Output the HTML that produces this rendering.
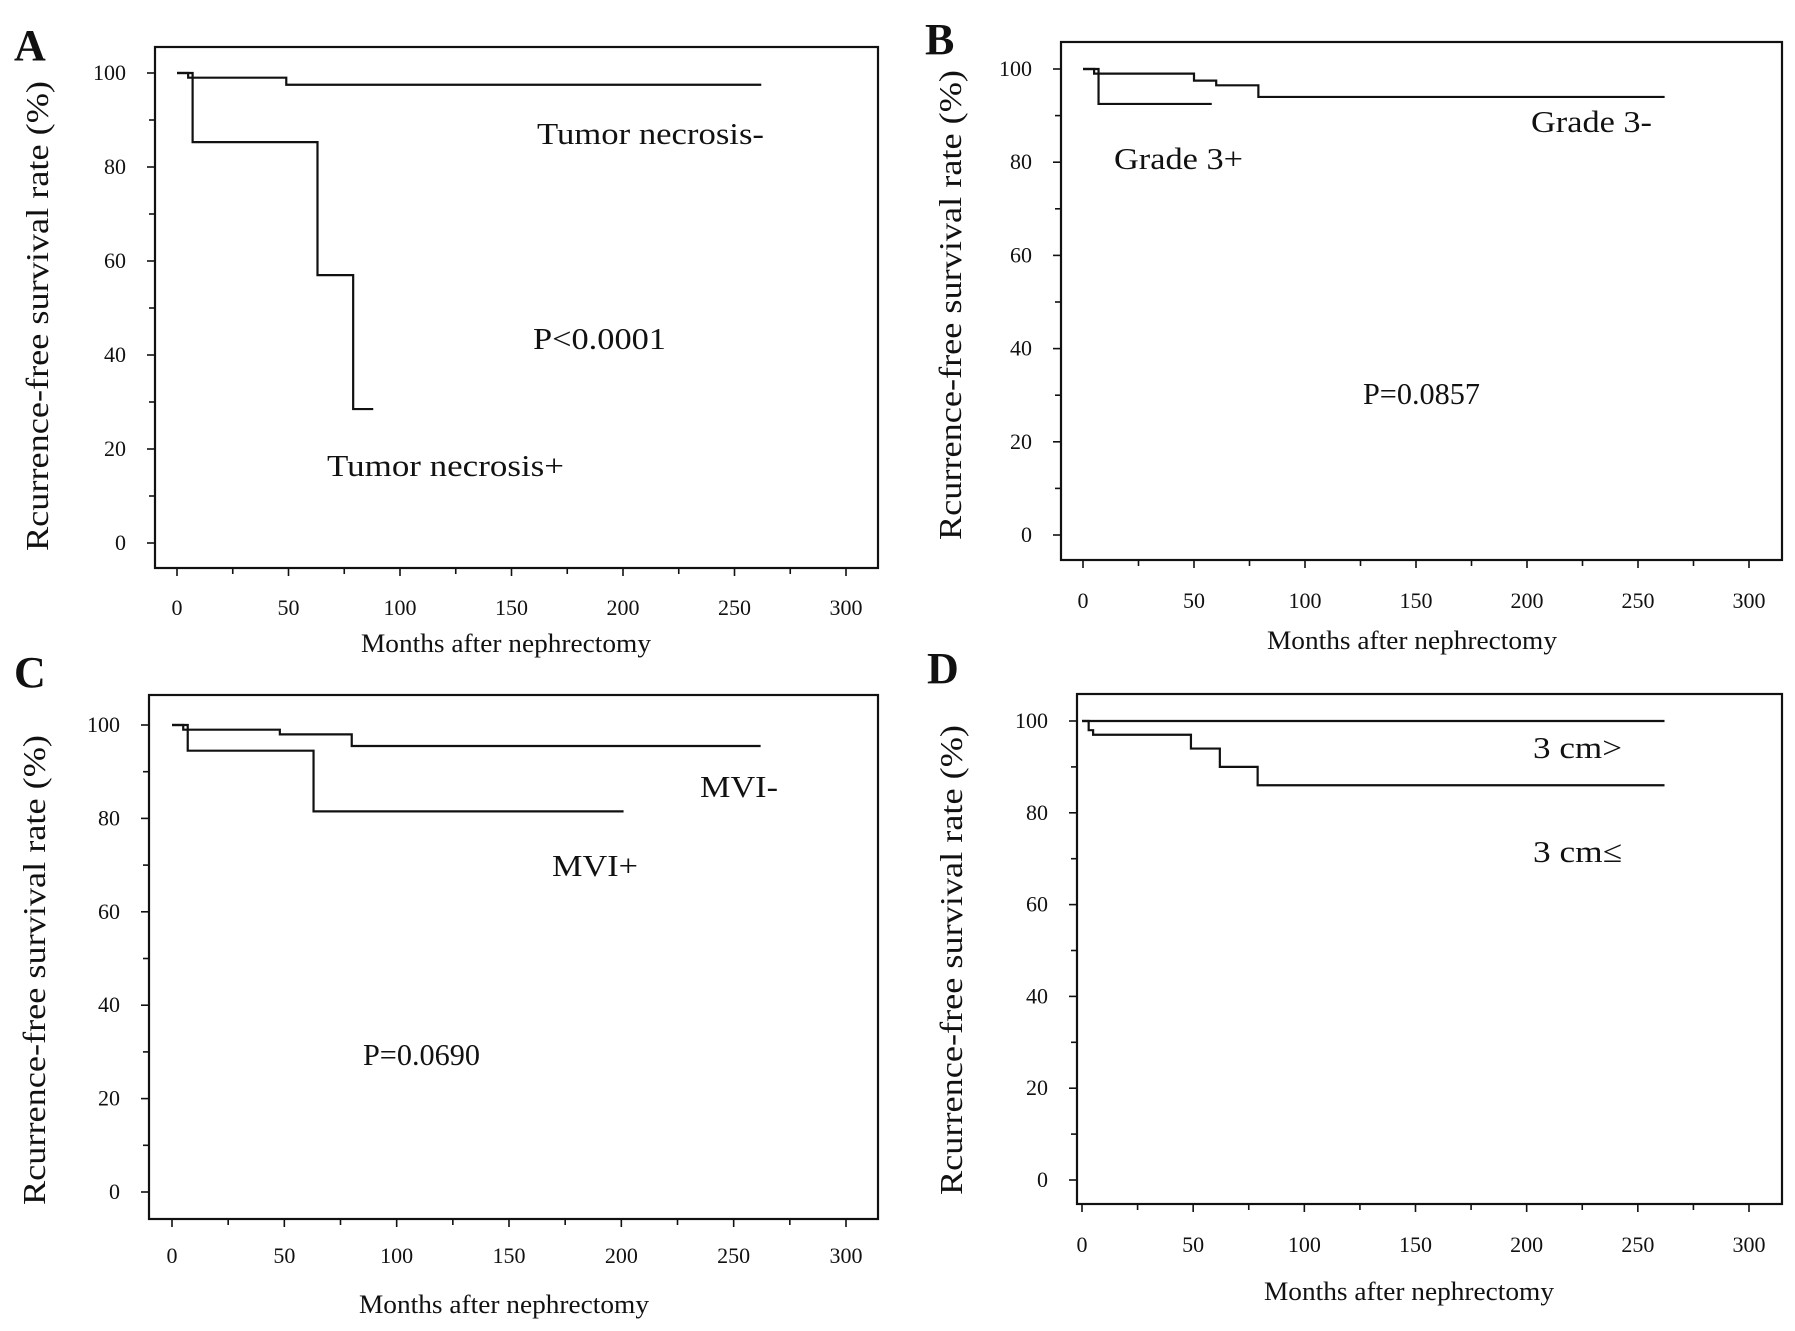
<!DOCTYPE html>
<html><head><meta charset="utf-8"><style>
body{margin:0;background:#fff}
svg{display:block}
text{font-family:"Liberation Serif",serif;fill:#111}
</style></head><body>
<svg id="fig" width="1795" height="1331" viewBox="0 0 1795 1331"></svg>
<script>
// Panel A data
const aNegX=[0,5,49,262], aNegY=[100,99,97.5,97.5];
const aPosX=[0,7,63,79,88], aPosY=[100,85.3,57,28.5,28.5];
// Panel B data
const bNegX=[0,5,50,60,79,262], bNegY=[100,99,97.5,96.5,94,94];
const bPosX=[0,7,58], bPosY=[100,92.5,92.5];
// Panel C data
const cNegX=[0,5,48,80,262], cNegY=[100,99,98,95.5,95.5];
const cPosX=[0,7,63,201], cPosY=[100,94.5,81.5,81.5];
// Panel D data
const dSmallX=[0,262], dSmallY=[100,100];
const dLargeX=[0,3,5,49,62,79,262], dLargeY=[100,98,97,94,90,86,86];
const xTicks=[0,50,100,150,200,250,300];
const yTicks=[0,20,40,60,80,100];

const NS="http://www.w3.org/2000/svg";
const svg=document.getElementById('fig');
function mk(tag,attrs,parent){const e=document.createElementNS(NS,tag);for(const k in attrs)e.setAttribute(k,attrs[k]);(parent||svg).appendChild(e);return e;}

const panels=[
 {id:'a',letter:'A',lx:14,ly:60,box:[155,47,878,568],x0:177,x300:846,y0:543,y100:73,
  series:[[aNegX,aNegY,'tumor-necrosis-negative-curve'],[aPosX,aPosY,'tumor-necrosis-positive-curve']],
  labels:[['Tumor necrosis-',537,144,227,'label-necrosis-negative'],['P<0.0001',533,349,133,'p-value'],['Tumor necrosis+',327,476,237,'label-necrosis-positive']],
  ytx:37,yty:316,xtl:615,xtt:652,xtc:506},
 {id:'b',letter:'B',lx:925,ly:54,box:[1061,42,1782,560],x0:1083,x300:1749,y0:535,y100:69,
  series:[[bNegX,bNegY,'grade3-negative-curve'],[bPosX,bPosY,'grade3-positive-curve']],
  labels:[['Grade 3-',1531,132,121,'label-grade3-negative'],['Grade 3+',1114,169,129,'label-grade3-positive'],['P=0.0857',1363,404,117,'p-value']],
  ytx:950,yty:305,xtl:608,xtt:649,xtc:1412},
 {id:'c',letter:'C',lx:14,ly:687,box:[149,695,878,1219],x0:172,x300:846,y0:1192,y100:725,
  series:[[cNegX,cNegY,'mvi-negative-curve'],[cPosX,cPosY,'mvi-positive-curve']],
  labels:[['MVI-',700,797,78,'label-mvi-negative'],['MVI+',552,876,86,'label-mvi-positive'],['P=0.0690',363,1065,117,'p-value']],
  ytx:34,yty:970,xtl:1263,xtt:1313,xtc:504},
 {id:'d',letter:'D',lx:927,ly:683,box:[1077,694,1782,1204],x0:1082,x300:1749,y0:1180,y100:721,
  series:[[dSmallX,dSmallY,'size-small-curve'],[dLargeX,dLargeY,'size-large-curve']],
  labels:[['3 cm>',1533,758,89,'label-size-small'],['3 cm≤',1533,862,89,'label-size-large']],
  ytx:951,yty:960,xtl:1252,xtt:1300,xtc:1409}
];

panels.forEach(p=>{
 const g=mk('g',{});
 
 
 const xs=v=>p.x0+(p.x300-p.x0)*v/300;
 const ys=v=>p.y0+(p.y100-p.y0)*v/100;
 const L=mk('text',{x:p.lx,y:p.ly,'font-size':44,'font-weight':'bold'},g);L.textContent=p.letter;
 
 const [x1,y1,x2,y2]=p.box;
 const r=mk('rect',{x:x1,y:y1,width:x2-x1,height:y2-y1,fill:'none',stroke:'#111','stroke-width':2.2},g);
 
 for(let v=0;v<=300;v+=25){
  const major=v%50===0;
  const t=mk('line',{x1:xs(v),x2:xs(v),y1:y2,y2:y2+(major?8:6),stroke:'#111','stroke-width':1.6},g);
  
 }
 xTicks.forEach(v=>{const t=mk('text',{x:xs(v),y:p.xtl,'font-size':22,'text-anchor':'middle'},g);t.textContent=v;
  });
 for(let v=0;v<=100;v+=10){
  const major=v%20===0;
  const t=mk('line',{x1:x1,x2:x1-(major?8:6),y1:ys(v),y2:ys(v),stroke:'#111','stroke-width':1.6},g);
  
 }
 yTicks.forEach(v=>{const t=mk('text',{x:x1-29,y:ys(v)+7,'font-size':22,'text-anchor':'end'},g);t.textContent=v;
  });
 const yt=mk('text',{x:p.ytx,y:p.yty,'font-size':32,'text-anchor':'middle',textLength:470,lengthAdjust:'spacingAndGlyphs',transform:`rotate(-90 ${p.ytx} ${p.yty})`,dy:'0.35em'},g);
 yt.textContent='Rcurrence-free survival  rate (%)';
 
 const xt=mk('text',{x:p.xtc,y:p.xtt,'font-size':26,'text-anchor':'middle',textLength:290,lengthAdjust:'spacingAndGlyphs'},g);
 xt.textContent='Months after nephrectomy';
 
 p.series.forEach(([X,Y,name])=>{
  let d=`M${xs(X[0])},${ys(Y[0])}`;
  for(let i=1;i<X.length;i++){d+=` H${xs(X[i])} V${ys(Y[i])}`;}
  const path=mk('path',{d:d,fill:'none',stroke:'#111','stroke-width':2.2},g);
  
 });
 p.labels.forEach(([s,x,y,w,n])=>{const t=mk('text',{x:x,y:y,'font-size':31,textLength:w,lengthAdjust:'spacingAndGlyphs'},g);t.textContent=s;
  });
});
</script>
</body></html>
